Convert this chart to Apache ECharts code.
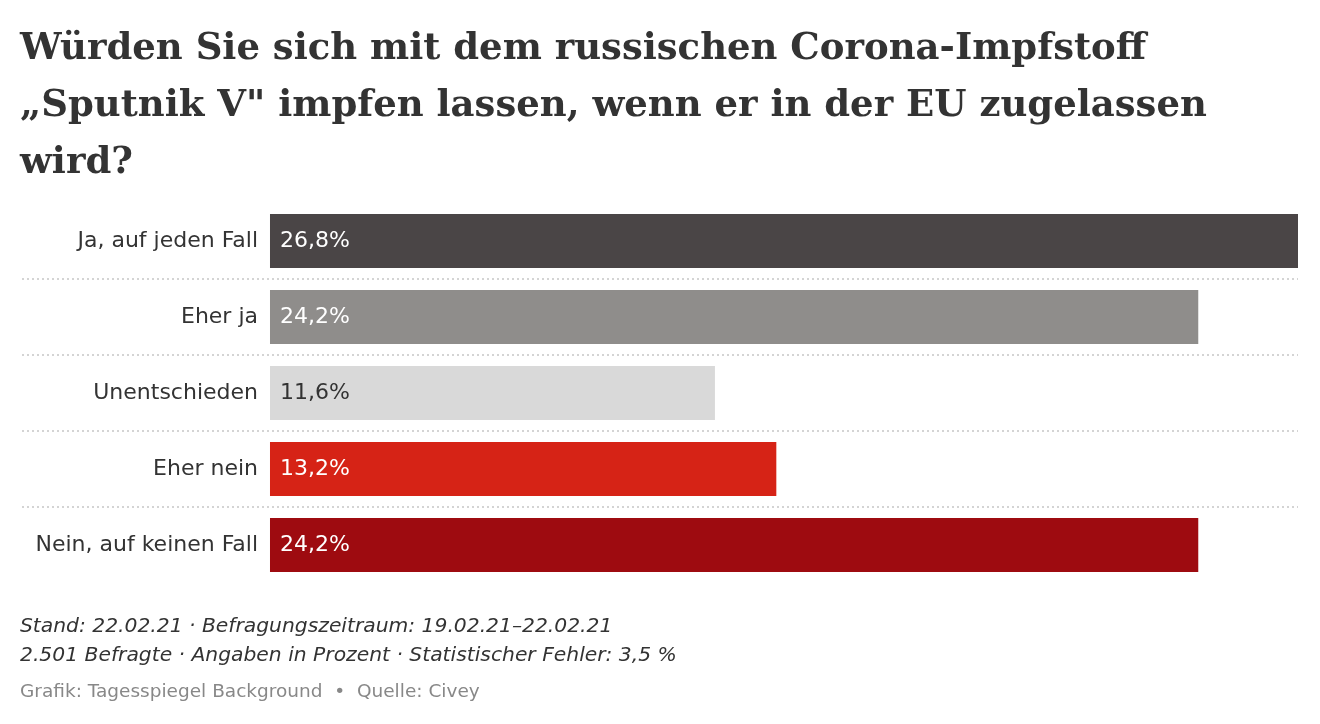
<!DOCTYPE html>
<html>
<head>
<meta charset="utf-8">
<script src="https://cdn.jsdelivr.net/npm/echarts@6/dist/echarts.min.js"></script>
<style>html,body{margin:0;padding:0;background:#fff}#c{width:1320px;height:724px}</style>
</head>
<body>
<div id="c"></div>
<script>
const titleText = 'Würden Sie sich mit dem russischen Corona-Impfstoff\n„Sputnik V" impfen lassen, wenn er in der EU zugelassen\nwird?';
const categories = ['Ja, auf jeden Fall', 'Eher ja', 'Unentschieden', 'Eher nein', 'Nein, auf keinen Fall'];
const values = [26.8, 24.2, 11.6, 13.2, 24.2];
const barColors = ['#4a4546', '#8f8d8b', '#d9d9d9', '#d62316', '#9e0b10'];
const labelColors = ['#ffffff', '#ffffff', '#333333', '#ffffff', '#ffffff'];
const noteLines = 'Stand: 22.02.21 · Befragungszeitraum: 19.02.21–22.02.21\n2.501 Befragte · Angaben in Prozent · Statistischer Fehler: 3,5 %';
const sourceText = 'Grafik: Tagesspiegel Background  •  Quelle: Civey';

const chart = echarts.init(document.getElementById('c'));
const sansFont = '"DejaVu Sans", sans-serif';
chart.setOption({
  backgroundColor: '#ffffff',
  animation: false,
  title: [{
    text: titleText,
    left: 20, top: 21, padding: 0,
    textStyle: {fontFamily: '"DejaVu Serif", serif', fontWeight: 'bold', fontSize: 37, lineHeight: 57, color: '#333333'}
  }, {
    text: noteLines,
    left: 20, top: 612, padding: 0,
    textStyle: {fontFamily: sansFont, fontStyle: 'italic', fontWeight: 'normal', fontSize: 20.3, lineHeight: 29, color: '#333333'}
  }, {
    text: sourceText,
    left: 20, top: 683, padding: 0,
    textStyle: {fontFamily: sansFont, fontWeight: 'normal', fontSize: 18.5, color: '#888888'}
  }],
  grid: {left: 22, right: 22, top: 203, height: 380, containLabel: false},
  xAxis: {
    type: 'value', min: -6.465, max: 26.8,
    show: false
  },
  yAxis: {
    type: 'category', data: categories, inverse: true,
    offset: -248,
    axisLine: {show: false}, axisTick: {show: false},
    axisLabel: {fontFamily: sansFont, fontSize: 22, color: '#333333', margin: 12},
    splitLine: {show: true, showMinLine: false, showMaxLine: false,
      lineStyle: {color: '#d4d4d4', width: 2, type: [2, 3]}}
  },
  series: [{
    type: 'bar',
    barWidth: 54,
    data: values.map((v, i) => ({value: v, itemStyle: {color: barColors[i]},
      label: {color: labelColors[i]}})),
    label: {
      show: true, position: 'insideLeft', distance: 10,
      fontFamily: sansFont, fontSize: 22,
      formatter: p => p.value.toFixed(1).replace('.', ',') + '%'
    }
  }]
});
</script>
</body>
</html>
